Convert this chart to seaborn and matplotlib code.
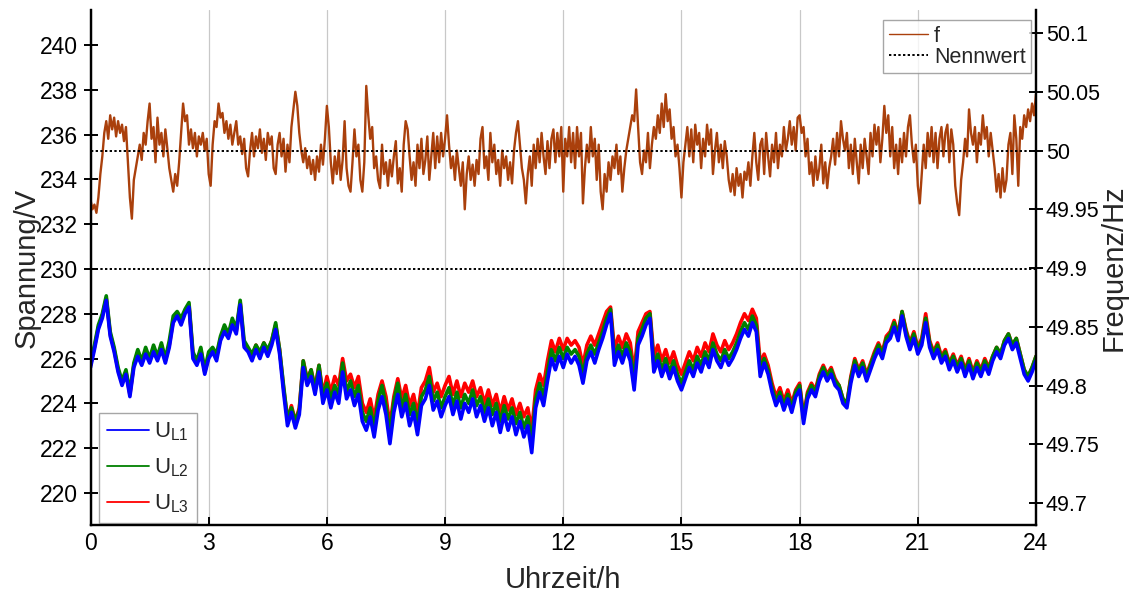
import numpy as np
import pandas as pd
import matplotlib
matplotlib.use("Agg")
import matplotlib.pyplot as plt
import seaborn as sns
from matplotlib.ticker import FixedLocator, FuncFormatter
from matplotlib.lines import Line2D

# ---------------- data ----------------
# Frequency deviation from 50 Hz in mHz, one value every 3 minutes (20 per hour)
f_dev_mhz = [
    -42, -50, -46, -53, -40, -20, -5, 15, 25, 10, 30, 18, 28, 12, 25, 15, 22, 8, 20, -10,          # 0 h
    -40, -58, -25, -15, -5, 5, -8, 15, 5, 25, 40, 10, 20, -10, 28, 5, 15, -5, 18, 2,               # 1 h
    -15, -25, -35, -20, -30, -10, 15, 40, 25, 30, 5, 18, 2, 15, -5, 12, 5, 15, 0, 10,               # 2 h
    -20, -30, 5, 25, 20, 40, 28, 32, 15, 25, 10, 22, 5, 15, 25, 5, 12, -3, 10, -15,                 # 3 h
    -22, 0, 15, -5, 12, 2, 18, -2, 10, -8, 15, 5, 12, -15, -20, 5, 15, -5, 10, -18,                 # 4 h
    5, -10, 20, 35, 50, 38, 15, 0, -10, 2, -15, -5, -20, -8, -25, -5, -18, 5, -12, 10,              # 5 h
    38, 20, -10, -28, -5, -20, 0, -25, -8, 25, -15, -30, -35, -10, 18, -5, 5, -25, -35, -10,        # 6 h
    55, 30, 10, 20, -15, -5, -25, -32, 5, -20, -10, -30, -8, -22, -5, 8, -28, -15, -35, 5,          # 7 h
    25, 18, -5, -25, -10, -30, 5, -15, 10, -20, -8, 12, -25, -5, 15, -15, 12, -10, 15, -5,          # 8 h
    10, 30, 5, -15, -5, -25, 0, -15, -30, -10, -50, -20, -5, -25, -12, -30, -8, -20, 10, 20,        # 9 h
    -15, -5, -25, 15, -10, 5, -20, -8, -30, 0, -15, -5, -25, -10, -28, 0, 15, 25, 5, -15,           # 10 h
    -25, -45, -20, -5, -30, 5, -15, 10, -10, 15, -5, -20, 8, -15, 10, 18, -10, 15, -5, 20,          # 11 h
    -35, 10, -5, 20, -10, 15, -15, 20, -5, 15, -45, -15, 5, -10, 20, -5, 10, -25, 5, -35,           # 12 h
    -50, -20, -35, -10, -25, -5, -15, 5, -20, -5, -35, -15, 0, 10, 20, 30, 25, 52, 20, -10,         # 13 h
    -20, 0, -10, 15, -15, 5, 20, 10, 30, 15, 40, 20, 48, 25, 35, 10, 20, -5, 5, -15,                # 14 h
    -40, -10, 5, 20, -5, 18, -10, 22, 5, 15, -15, 10, -5, 22, 5, 18, -20, 0, 15, -10,               # 15 h
    5, -15, 8, -5, -25, -35, -20, -38, -15, -30, -20, -40, -18, -25, -10, -30, -5, 15, -10, -25,    # 16 h
    5, 10, -20, 15, -5, -22, 5, -10, 15, -15, 5, -5, 20, 0, 10, 25, 5, 20, 0, 28,                   # 17 h
    30, 15, 20, -5, 10, -20, -10, -30, -5, -25, -15, 5, -28, -10, -32, -15, -5, 10, -12, 15,        # 18 h
    -5, 25, 10, 0, 15, -15, 5, -20, 10, -10, -28, 5, -15, 10, -5, -20, 15, -5, 22, 5,               # 19 h
    20, -10, 10, 38, 15, 30, -5, 20, -15, 5, -20, 10, -10, 15, -5, 20, 30, 5, -10, 5,               # 20 h
    -30, -45, -20, 5, -15, 15, -5, 20, -10, 15, -15, 10, 20, -5, 15, 22, -10, 18, 5, -30,           # 21 h
    -45, -55, -25, -10, 10, -5, 35, 15, 5, 20, -10, 15, 5, 30, 10, 20, -5, 15, 0, -15,              # 22 h
    -35, -20, -40, -15, -35, -25, 5, 15, -20, 30, 10, -30, 20, 10, 30, 20, 35, 25, 40, 30,          # 23 h
    48,
]

# Phase voltages in V, one value every 6 minutes (10 per hour)
u_l1 = [
    225.6, 226.4, 227.3, 227.8, 228.6, 227.0, 226.3, 225.4, 224.8, 225.3,
    224.3, 225.6, 226.1, 225.7, 226.2, 225.8, 226.3, 225.9, 226.4, 225.8,
    226.5, 227.6, 227.9, 227.5, 228.0, 228.3, 226.0, 225.7, 226.2, 225.3,
    226.0, 226.3, 225.9, 226.8, 227.2, 226.9, 227.5, 227.1, 228.4, 226.5,
    226.3, 225.9, 226.4, 226.0, 226.5, 226.1, 226.6, 227.3, 226.2, 224.5,
    223.0, 223.6, 222.9, 223.5, 225.6, 224.8, 225.2, 224.4, 225.4, 224.0,
    224.6, 223.8, 224.5, 224.0, 225.4, 224.2, 224.6, 223.9, 224.4, 223.2,
    222.8, 223.4, 222.5, 223.7, 224.3, 223.5, 222.2, 223.6, 224.4, 223.4,
    224.0, 223.0, 223.6, 222.6, 223.9, 224.2, 224.8, 223.7, 224.1, 223.4,
    223.9, 224.3, 223.5, 224.1, 223.3, 224.0, 223.6, 224.2, 223.4, 223.9,
    223.2, 223.8, 223.0, 223.6, 222.7, 223.5, 222.8, 223.4, 222.6, 223.2,
    222.5, 223.0, 221.8, 223.8, 224.5, 223.9, 225.0, 226.0, 225.5, 226.1,
    225.6, 226.2, 225.8, 226.1, 225.7, 224.9, 225.9, 226.3, 225.8, 226.4,
    226.9, 227.5, 228.0, 225.7, 226.3, 225.8, 226.4, 225.9, 224.6, 226.6,
    227.0, 227.5, 227.8, 225.4, 225.9, 225.2, 225.7, 225.1, 225.6, 225.0,
    224.6, 225.1, 225.6, 225.2, 225.8, 225.4, 226.0, 225.6, 226.4, 225.9,
    225.6, 226.1, 225.7, 226.0, 226.4, 226.9, 227.3, 227.0, 227.6, 227.2,
    225.2, 225.8, 225.3, 224.5, 223.9, 224.3, 223.7, 224.2, 223.6, 224.3,
    224.6, 223.1, 224.2, 224.6, 224.3, 225.0, 225.4, 225.0, 225.3, 224.8,
    224.6, 224.0, 223.8, 224.9, 225.7, 225.2, 225.6, 225.0, 225.5, 226.0,
    226.4, 226.0, 226.7, 226.9, 227.4, 226.8, 227.9, 227.0, 226.4, 226.9,
    226.2, 226.6, 227.6, 226.5, 226.0, 226.4, 225.8, 226.1, 225.5, 225.9,
    225.4, 225.8, 225.2, 225.7, 225.1, 225.6, 225.2, 225.7, 225.3, 225.9,
    226.3, 226.0, 226.6, 226.9, 226.4, 226.7, 226.0, 225.3, 225.0, 225.4,
    225.9,
]
u_l2 = [
    225.8, 226.6, 227.5, 228.0, 228.8, 227.2, 226.5, 225.6, 225.0, 225.5,
    224.5, 225.8, 226.4, 225.9, 226.5, 226.0, 226.6, 226.1, 226.7, 226.0,
    226.8, 227.9, 228.1, 227.8, 228.2, 228.5, 226.3, 225.9, 226.5, 225.5,
    226.3, 226.5, 226.2, 227.0, 227.5, 227.1, 227.8, 227.3, 228.6, 226.8,
    226.5, 226.2, 226.6, 226.3, 226.7, 226.4, 226.8, 227.6, 226.4, 224.8,
    223.3, 223.8, 223.2, 223.7, 225.9, 225.0, 225.5, 224.6, 225.7, 224.3,
    224.9, 224.2, 224.8, 224.4, 225.8, 224.5, 225.0, 224.3, 224.8, 223.6,
    223.2, 223.8, 222.9, 224.1, 224.8, 223.9, 222.6, 224.1, 224.9, 223.8,
    224.4, 223.5, 224.0, 223.1, 224.3, 224.6, 225.2, 224.1, 224.5, 223.8,
    224.3, 224.7, 223.9, 224.5, 223.8, 224.4, 224.0, 224.6, 223.9, 224.3,
    223.6, 224.2, 223.5, 224.0, 223.2, 223.9, 223.3, 223.8, 223.1, 223.6,
    222.9, 223.4, 222.3, 224.2, 224.9, 224.3, 225.4, 226.4, 225.9, 226.5,
    226.0, 226.5, 226.2, 226.4, 226.1, 225.3, 226.2, 226.6, 226.2, 226.7,
    227.2, 227.8, 228.2, 226.0, 226.6, 226.1, 226.7, 226.3, 225.0, 226.9,
    227.3, 227.8, 228.0, 225.7, 226.2, 225.5, 226.0, 225.4, 225.9, 225.3,
    224.9, 225.4, 225.9, 225.5, 226.1, 225.7, 226.3, 225.9, 226.7, 226.2,
    225.9, 226.4, 226.0, 226.3, 226.7, 227.2, 227.6, 227.3, 227.9, 227.5,
    225.5, 226.0, 225.5, 224.7, 224.1, 224.5, 223.9, 224.4, 223.8, 224.5,
    224.8, 223.3, 224.4, 224.8, 224.5, 225.2, 225.6, 225.2, 225.5, 225.0,
    224.8, 224.2, 224.0, 225.1, 225.9, 225.4, 225.8, 225.2, 225.7, 226.2,
    226.6, 226.2, 226.9, 227.1, 227.6, 227.0, 228.1, 227.2, 226.6, 227.1,
    226.4, 226.8, 227.8, 226.7, 226.2, 226.6, 226.0, 226.3, 225.7, 226.1,
    225.6, 226.0, 225.4, 225.9, 225.3, 225.8, 225.4, 225.9, 225.5, 226.1,
    226.5, 226.2, 226.8, 227.1, 226.6, 226.9, 226.2, 225.5, 225.2, 225.6,
    226.1,
]
u_l3 = [
    225.7, 226.5, 227.4, 227.9, 228.7, 227.1, 226.4, 225.5, 224.9, 225.4,
    224.4, 225.7, 226.3, 225.8, 226.3, 225.9, 226.5, 226.0, 226.6, 225.9,
    226.6, 227.7, 228.0, 227.6, 228.1, 228.4, 226.2, 225.8, 226.4, 225.4,
    226.1, 226.4, 226.1, 226.9, 227.3, 227.0, 227.6, 227.2, 228.5, 226.6,
    226.4, 226.1, 226.6, 226.2, 226.7, 226.3, 226.8, 227.5, 226.4, 224.7,
    223.3, 223.9, 223.2, 223.8, 225.9, 225.1, 225.5, 224.7, 225.7, 224.4,
    225.2, 224.5, 225.2, 224.8, 226.0, 225.0, 225.3, 224.7, 225.2, 224.0,
    223.6, 224.2, 223.3, 224.4, 225.0, 224.3, 223.0, 224.3, 225.1, 224.2,
    224.8, 223.9, 224.4, 223.5, 224.7, 225.0, 225.6, 224.5, 224.9, 224.3,
    224.8, 225.2, 224.4, 225.0, 224.3, 224.9, 224.5, 225.0, 224.3, 224.7,
    224.0, 224.6, 223.9, 224.4, 223.6, 224.3, 223.7, 224.2, 223.5, 224.0,
    223.4, 223.8, 222.8, 224.6, 225.3, 224.8, 225.9, 226.8, 226.3, 226.9,
    226.4, 226.9, 226.6, 226.8, 226.5, 225.7, 226.6, 227.0, 226.6, 227.1,
    227.6, 228.1, 228.3, 226.4, 227.0, 226.5, 227.1, 226.7, 225.4, 227.2,
    227.6, 228.0, 228.1, 226.1, 226.6, 225.9, 226.4, 225.8, 226.3, 225.7,
    225.3, 225.8, 226.3, 225.9, 226.5, 226.1, 226.7, 226.3, 227.1, 226.6,
    226.3, 226.8, 226.4, 226.7, 227.1, 227.6, 228.0, 227.7, 228.2, 227.8,
    225.8, 226.2, 225.7, 224.9, 224.3, 224.7, 224.1, 224.6, 224.0, 224.6,
    224.9, 223.4, 224.5, 224.9, 224.6, 225.3, 225.7, 225.3, 225.6, 225.1,
    224.8, 224.2, 224.0, 225.2, 226.0, 225.5, 225.9, 225.3, 225.8, 226.3,
    226.7, 226.3, 227.0, 227.2, 227.7, 227.1, 228.1, 227.3, 226.7, 227.2,
    226.5, 226.9, 228.0, 226.8, 226.3, 226.7, 226.1, 226.4, 225.8, 226.2,
    225.7, 226.1, 225.5, 226.0, 225.4, 225.9, 225.5, 226.0, 225.6, 226.1,
    226.5, 226.2, 226.8, 227.1, 226.6, 226.9, 226.2, 225.5, 225.2, 225.6,
    226.1,
]

u_nominal = 230.0
f_nominal = 50.0
x_ticks = [0, 3, 6, 9, 12, 15, 18, 21, 24]
u_ticks = [220, 222, 224, 226, 228, 230, 232, 234, 236, 238, 240]
f_ticks = [49.7, 49.75, 49.8, 49.85, 49.9, 49.95, 50.0, 50.05, 50.1]
u_labels = ["U$_{L1}$", "U$_{L2}$", "U$_{L3}$"]

# ---------------- build frames ----------------
t_f = np.linspace(0, 24, len(f_dev_mhz))
t_u = np.linspace(0, 24, len(u_l1))
df_f = pd.DataFrame({"t": t_f, "f": f_nominal + np.array(f_dev_mhz) / 1000.0})
df_u = pd.DataFrame({"t": t_u, "L1": u_l1, "L2": u_l2, "L3": u_l3})

# ---------------- style ----------------
sns.set_theme(style="white")
plt.rcParams["font.family"] = ["Liberation Sans", "DejaVu Sans"]
plt.rcParams["mathtext.default"] = "regular"

fig = plt.figure(figsize=(11.3, 5.96), dpi=100)
W, H = 1130, 596
x0, x1, y0, y1 = 90.5, 1036, 10, 525
ax = fig.add_axes([x0 / W, 1 - y1 / H, (x1 - x0) / W, (y1 - y0) / H])
ax2 = ax.twinx()

c_l1, c_l2, c_l3 = "#0000ff", "#008000", "#ff0000"
c_f = "#aa400c"
lw_u = 2.6

# voltages (L3 drawn first so L1 ends on top)
sns.lineplot(data=df_u, x="t", y="L3", ax=ax, color=c_l3, linewidth=lw_u,
             estimator=None, sort=False, legend=False)
sns.lineplot(data=df_u, x="t", y="L2", ax=ax, color=c_l2, linewidth=lw_u,
             estimator=None, sort=False, legend=False)
sns.lineplot(data=df_u, x="t", y="L1", ax=ax, color=c_l1, linewidth=lw_u,
             estimator=None, sort=False, legend=False)
ax.axhline(u_nominal, color="black", linestyle=(0, (1.2, 1.2)), linewidth=1.4)

# frequency
sns.lineplot(data=df_f, x="t", y="f", ax=ax2, color=c_f, linewidth=1.7,
             estimator=None, sort=False, legend=False)
ax2.axhline(f_nominal, color="black", linestyle=(0, (1.2, 1.2)), linewidth=1.4)

# axes limits / ticks
ax.set_xlim(0, 24)
ax.set_ylim(218.57, 241.56)
ax2.set_ylim(49.6813, 50.1196)
ax.xaxis.set_major_locator(FixedLocator(x_ticks))
ax.yaxis.set_major_locator(FixedLocator(u_ticks))
ax2.yaxis.set_major_locator(FixedLocator(f_ticks))
ax2.yaxis.set_major_formatter(FuncFormatter(lambda v, p: f"{v:g}"))
ax.xaxis.set_major_formatter(FuncFormatter(lambda v, p: f"{v:g}"))

ax.grid(axis="x", color="#c8c8c8", linewidth=0.9)
ax.grid(axis="y", visible=False)
ax2.grid(False)

for a in (ax, ax2):
    a.spines["top"].set_visible(False)
    for s in ("left", "right", "bottom"):
        a.spines[s].set_color("black")
        a.spines[s].set_linewidth(1.6)

ax.tick_params(axis="x", direction="in", length=6, width=1.4, labelsize=16.5,
               colors="black", pad=5, bottom=True)
ax.tick_params(axis="y", direction="inout", length=10, width=1.4, labelsize=16.5,
               colors="black", pad=4, left=True)
ax2.tick_params(axis="y", direction="inout", length=10, width=1.4, labelsize=15.5,
                colors="black", pad=2, right=True)

ax.set_xlabel("Uhrzeit/h", fontsize=21, labelpad=8)
ax.set_ylabel("Spannung/V", fontsize=21)
ax2.set_ylabel("Frequenz/Hz", fontsize=21)
ax.yaxis.set_label_coords((41 - x0) / (x1 - x0), 0.5)
ax2.yaxis.set_label_coords((1100 - x0) / (x1 - x0), 0.5)

# legends
h_u = [Line2D([], [], color=c, linewidth=1.3) for c in (c_l1, c_l2, c_l3)]
leg1 = ax.legend(h_u, u_labels, loc="lower left", bbox_to_anchor=(0.004, -0.005),
                 fontsize=16, frameon=True, fancybox=False, edgecolor="#909090",
                 handlelength=1.9, handletextpad=0.25, labelspacing=0.6,
                 borderpad=0.35, borderaxespad=0.2)
leg1.get_frame().set_linewidth(1.0)

h_f = [Line2D([], [], color=c_f, linewidth=1.0),
       Line2D([], [], color="black", linestyle=(0, (1.2, 1.2)), linewidth=1.4)]
leg2 = ax2.legend(h_f, ["f", "Nennwert"], loc="upper right",
                  bbox_to_anchor=(0.9995, 0.988), fontsize=15.5, frameon=True,
                  fancybox=False, edgecolor="#909090", handlelength=1.8,
                  handletextpad=0.3, labelspacing=0.0, borderpad=0.25,
                  borderaxespad=0.2)
leg2.get_frame().set_linewidth(1.0)

fig.savefig("out.png", dpi=100)
